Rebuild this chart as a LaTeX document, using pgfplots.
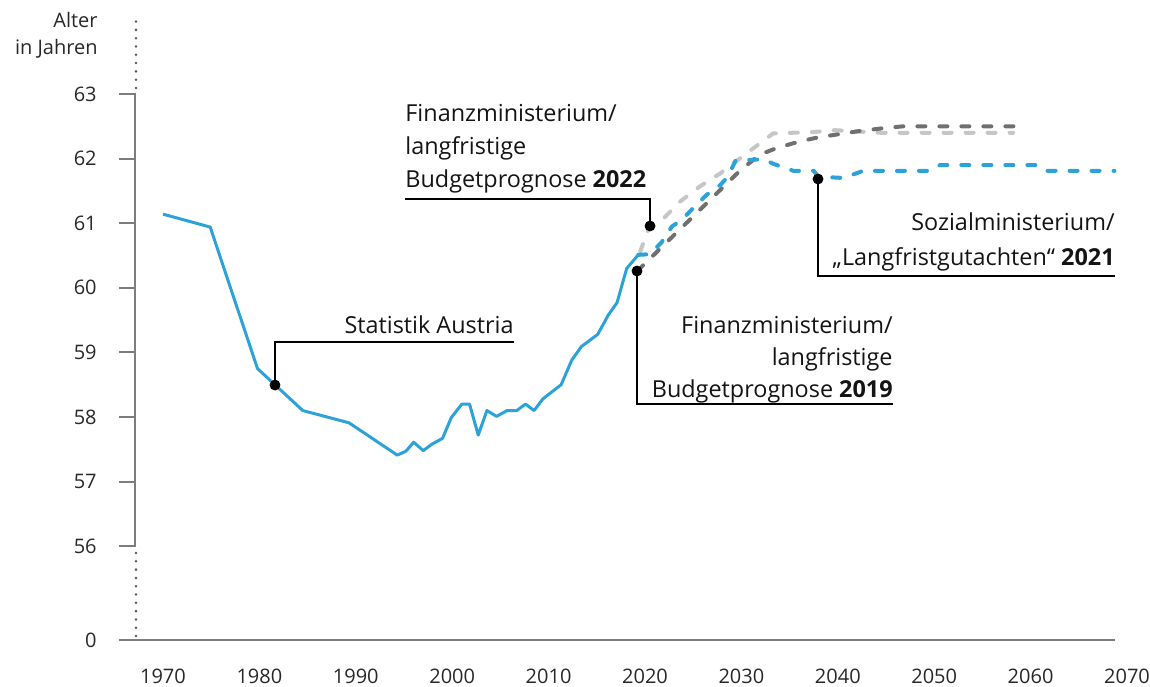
\documentclass[border=0pt]{standalone}
\usepackage{pgfplots}
\pgfplotsset{compat=1.18}
\usepackage{fontspec}
\setmainfont{Open Sans}
\definecolor{cblue}{RGB}{45,162,216}
\definecolor{cdark}{RGB}{112,112,112}
\definecolor{clight}{RGB}{198,198,198}
\definecolor{axisc}{RGB}{125,125,125}
\definecolor{dotc}{RGB}{90,90,90}
\definecolor{tickc}{RGB}{40,40,40}
\definecolor{txtc}{RGB}{20,20,20}
\newcommand\px[2]{axis cs:{1970+((#1)-163)/9.64},{63-((#2)-94)/64.6}}
\newcommand\annfont{\fontsize{11.7}{16.5}\selectfont}

\pgfplotstableread{
x y
1970.0 61.14
1974.9 60.94
1979.8 58.75
1984.5 58.10
1989.3 57.91
1994.3 57.41
1995.2 57.47
1996.0 57.61
1997.0 57.48
1997.9 57.58
1999.0 57.67
1999.9 57.99
2001.0 58.20
2001.8 58.20
2002.7 57.72
2003.6 58.10
2004.6 58.01
2005.7 58.10
2006.7 58.10
2007.6 58.20
2008.5 58.10
2009.4 58.28
2011.3 58.50
2012.4 58.88
2013.4 59.09
2015.1 59.28
2016.2 59.58
2017.1 59.77
2018.1 60.30
2019.3 60.51
}\statistik

\pgfplotstableread{
x y
2019.3 60.51
2020.5 60.52
2021.7 60.70
2022.8 60.95
2023.8 61.05
2025.3 61.28
2026.4 61.44
2027.8 61.59
2028.6 61.72
2029.4 61.97
2032.3 61.99
2033.3 61.92
2035.4 61.81
2037.5 61.81
2038.0 61.72
2040.6 61.70
2042.6 61.81
2049.6 61.81
2050.6 61.90
2060.6 61.90
2061.5 61.81
2068.7 61.81
}\sozial

\pgfplotstableread{
x y
2019.2 60.26
2029.9 61.82
2031.9 62.06
2033.6 62.16
2035.9 62.26
2038.0 62.33
2040.2 62.38
2042.4 62.43
2044.7 62.47
2046.8 62.50
2058.6 62.50
}\bmfnineteen

\pgfplotstableread{
x y
2019.5 60.56
2020.3 60.89
2021.9 61.07
2023.6 61.33
2025.7 61.57
2027.8 61.77
2029.9 62.01
2033.3 62.39
2037.4 62.41
2039.7 62.44
2042.0 62.42
2044.4 62.40
2058.2 62.40
}\bmftwentytwo

\begin{document}
\begin{tikzpicture}
\begin{axis}[
  scale only axis, width=508.8pt, height=312pt,
  xmin=1965.44, xmax=2071, ymin=54.548, ymax=64.207,
  axis line style={draw=none}, major tick length=0pt, tick style={draw=none},
  xtick={1970,1980,1990,2000,2010,2020,2030,2040,2050,2060,2070},
  xticklabels={1970,1980,1990,2000,2010,2020,2030,2040,2050,2060,2070},
  ytick={54.548,56,57,58,59,60,61,62,63},
  yticklabels={0,56,57,58,59,60,61,62,63},
  ticklabel style={font=\fontsize{10}{12}\selectfont, text=tickc, inner sep=0pt},
  xticklabel style={anchor=north, yshift=-14.5pt},
  yticklabel style={anchor=east, xshift=-11pt},
  clip=false,
]
% axis decorations
\draw[axisc, line width=1pt] (\px{119}{640}) -- (\px{1115}{640});
\draw[axisc, line width=1pt] (\px{119}{94}) -- (\px{135.5}{94}) -- (\px{135.5}{546}) -- (\px{119}{546});
\pgfplotsinvokeforeach{57,58,59,60,61,62}{
  \draw[axisc, line width=1pt] (axis cs:1965.44,#1) -- (axis cs:1967.15,#1);
}
\draw[dotc, line width=1.4pt, line cap=round, dash pattern=on 0pt off 4.15pt] (\px{136}{636}) -- (\px{136}{549});
\draw[dotc, line width=1.4pt, line cap=round, dash pattern=on 0pt off 4.15pt] (\px{136}{88}) -- (\px{136}{15});

% series
\addplot[clight, line width=2pt, line cap=round, dash pattern=on 4pt off 7pt] table[x=x,y=y] {\bmftwentytwo};
\addplot[cdark, line width=2pt, line cap=round, dash pattern=on 4pt off 7pt] table[x=x,y=y] {\bmfnineteen};
\addplot[cblue, line width=2pt, line cap=round, dash pattern=on 4pt off 7pt] table[x=x,y=y] {\sozial};
\addplot[cblue, line width=1.5pt, line join=round] table[x=x,y=y] {\statistik};

% leader lines
\draw[black, line width=0.9pt] (\px{275}{385}) -- (\px{275}{342}) -- (\px{514}{342});
\draw[black, line width=0.9pt] (\px{405}{199}) -- (\px{650}{199}) -- (\px{650}{226});
\draw[black, line width=0.9pt] (\px{893}{404}) -- (\px{637}{404}) -- (\px{637}{271});
\draw[black, line width=0.9pt] (\px{818}{179}) -- (\px{818}{276}) -- (\px{1115}{276});

\addplot[only marks, mark=*, mark size=2.5pt, black] coordinates {(1981.62,58.495) (2020.52,60.957) (2019.17,60.260) (2037.95,61.684)};

% annotations
\node[anchor=base east, inner sep=0pt, font=\annfont, text=txtc] at (\px{514}{333}) {Statistik Austria};

\node[anchor=base west, inner sep=0pt, font=\annfont, text=txtc] at (\px{405}{122}) {Finanzministerium/};
\node[anchor=base west, inner sep=0pt, font=\annfont, text=txtc] at (\px{405}{155}) {langfristige};
\node[anchor=base west, inner sep=0pt, font=\annfont, text=txtc] at (\px{405}{188}) {Budgetprognose \textbf{2022}};

\node[anchor=base east, inner sep=0pt, font=\annfont, text=txtc] at (\px{893}{333}) {Finanzministerium/};
\node[anchor=base east, inner sep=0pt, font=\annfont, text=txtc] at (\px{893}{365}) {langfristige};
\node[anchor=base east, inner sep=0pt, font=\annfont, text=txtc] at (\px{893}{397}) {Budgetprognose \textbf{2019}};

\node[anchor=base east, inner sep=0pt, font=\annfont, text=txtc] at (\px{1115}{231}) {Sozialministerium/};
\node[anchor=base east, inner sep=0pt, font=\annfont, text=txtc] at (\px{1115}{265}) {„Langfristgutachten“ \textbf{2021}};

\node[anchor=base east, inner sep=0pt, font=\fontsize{10}{12}\selectfont, text=tickc] at (\px{98}{28}) {Alter};
\node[anchor=base east, inner sep=0pt, font=\fontsize{10}{12}\selectfont, text=tickc] at (\px{98}{55}) {in Jahren};

\path (\px{0}{0}) rectangle (\px{1150}{686});
\end{axis}
\end{tikzpicture}
\end{document}
